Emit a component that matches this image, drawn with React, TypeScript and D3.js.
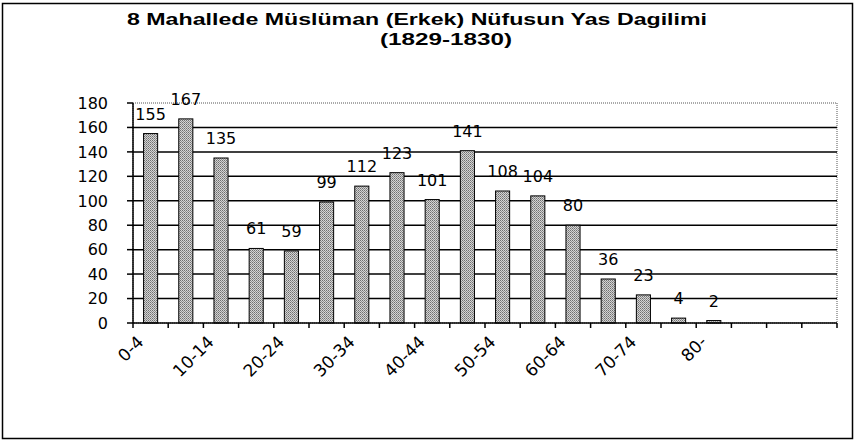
import * as d3 from "d3";

const ageGroups = ["0-4", "5-9", "10-14", "15-19", "20-24", "25-29", "30-34", "35-39", "40-44", "45-49", "50-54", "55-59", "60-64", "65-69", "70-74", "75-79", "80-"];
const menCounts = [155, 167, 135, 61, 59, 99, 112, 123, 101, 141, 108, 104, 80, 36, 23, 4, 2];
const emptySlots = 3; // the sheet reserves 3 blank categories after 80-
const yTicks = [0, 20, 40, 60, 80, 100, 120, 140, 160, 180];
const titleLine1 = "8 Mahallede Müslüman (Erkek) Nüfusun Yas Dagilimi";
const titleLine2 = "(1829-1830)";

const App = () => {
  const width = 856;
  const height = 445;
  const marginLeft = 133;
  const marginRight = 19;
  const marginTop = 103;
  const marginBottom = 122;
  const font = "'DejaVu Sans', sans-serif";
  const titleFont = "'Liberation Sans', Arial, sans-serif";

  const slots = d3.range(ageGroups.length + emptySlots);
  const x = d3.scaleBand<number>().domain(slots).range([marginLeft, width - marginRight]).paddingInner(0).paddingOuter(0);
  const y = d3.scaleLinear().domain([0, 180]).range([height - marginBottom, marginTop]);
  const barW = x.bandwidth() * 0.4;
  const y0 = y(0);

  return (
    <svg width={width} height={height} style={{ position: "absolute", left: 0, top: 0, background: "#fff" }} fontFamily={font}>
      <defs>
        <pattern id="stipple" width="2" height="2" patternUnits="userSpaceOnUse">
          <rect width="2" height="2" fill="#d4d4d4" />
          <rect width="1" height="1" fill="#707070" />
          <rect x="1" y="1" width="1" height="1" fill="#909090" />
        </pattern>
      </defs>
      <rect x={2.5} y={3.5} width={850} height={435} fill="none" stroke="#000" strokeWidth={1.5} />

      <g fontFamily={titleFont} fontWeight="bold" fontSize={17}>
        <text x={127} y={25} textLength={580} lengthAdjust="spacingAndGlyphs">{titleLine1}</text>
        <text x={380} y={45} textLength={132} lengthAdjust="spacingAndGlyphs">{titleLine2}</text>
      </g>

      {/* plot area border, dotted */}
      <rect x={marginLeft} y={marginTop} width={width - marginLeft - marginRight} height={y0 - marginTop} fill="none" stroke="#555" strokeWidth={1} strokeDasharray="1,1" />

      {/* gridlines */}
      <g stroke="#000" strokeWidth={1.5}>
        {yTicks.filter(t => t > 0 && t < 180).map(t => (
          <line key={t} x1={marginLeft} x2={width - marginRight} y1={y(t)} y2={y(t)} />
        ))}
      </g>

      {/* bars */}
      <g fill="url(#stipple)" stroke="#000" strokeWidth={1}>
        {menCounts.map((d, i) => (
          <rect key={i} x={x(i)! + (x.bandwidth() - barW) / 2} y={y(d)} width={barW} height={y0 - y(d)} />
        ))}
      </g>

      {/* value labels */}
      <g fontSize={16} textAnchor="middle">
        {menCounts.map((d, i) => (
          <text key={i} x={x(i)! + x.bandwidth() / 2} y={y(d) - 14}>{d}</text>
        ))}
      </g>

      {/* y axis */}
      <line x1={marginLeft} x2={marginLeft} y1={marginTop} y2={y0} stroke="#000" strokeWidth={1.5} />
      <g fontSize={16} textAnchor="end">
        {yTicks.map(t => (
          <g key={t}>
            <line x1={marginLeft - 6} x2={marginLeft} y1={y(t)} y2={y(t)} stroke="#000" strokeWidth={1.5} />
            <text x={108} y={y(t)} dy="0.36em">{t}</text>
          </g>
        ))}
      </g>

      {/* x axis */}
      <line x1={marginLeft} x2={width - marginRight} y1={y0} y2={y0} stroke="#000" strokeWidth={1.5} />
      <g stroke="#000" strokeWidth={1.5}>
        {slots.concat([slots.length]).map(i => {
          const xx = i < slots.length ? x(i)! : x.range()[1];
          return <line key={i} x1={xx} x2={xx} y1={y0} y2={y0 + 5} />;
        })}
      </g>
      <g fontSize={17} textAnchor="end">
        {ageGroups.map((g, i) => i % 2 === 0 ? (
          <text key={g} transform={`translate(${x(i)! + x.bandwidth() / 2 - 6},${y0 + 20}) rotate(-45)`}>{g}</text>
        ) : null)}
      </g>
    </svg>
  );
};

export default App;
